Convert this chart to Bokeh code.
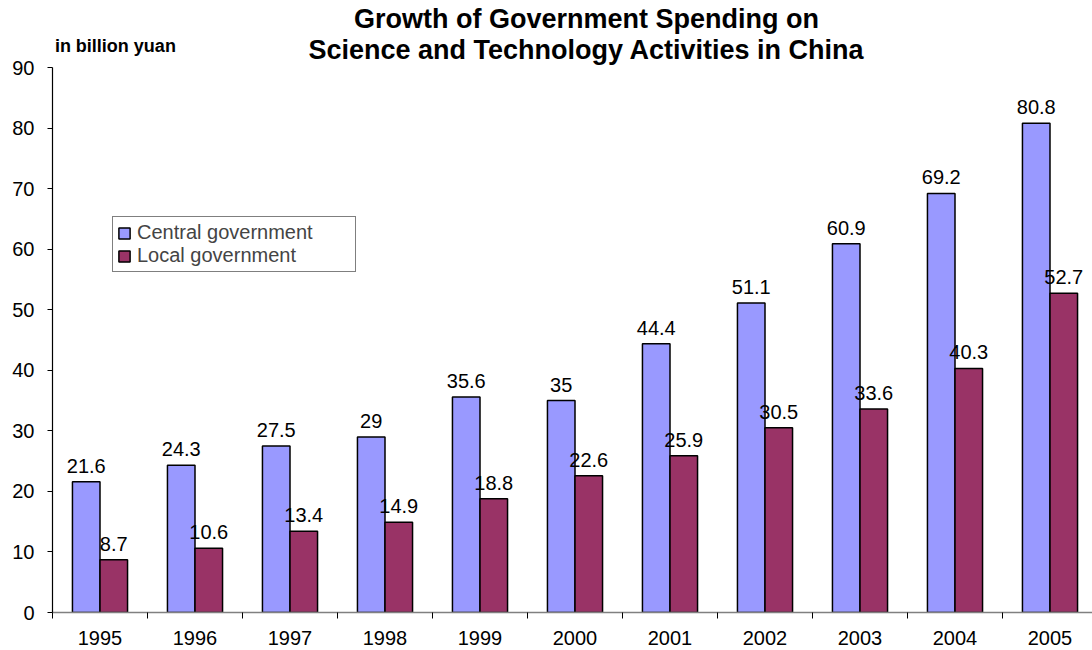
from bokeh.plotting import figure
from bokeh.models import (ColumnDataSource, FixedTicker, Range1d, Label, Legend, LegendItem)
from bokeh.core.properties import value
from bokeh.embed import file_html
from bokeh.resources import INLINE

years = ["1995", "1996", "1997", "1998", "1999", "2000", "2001", "2002", "2003", "2004", "2005"]
central = [21.6, 24.3, 27.5, 29, 35.6, 35, 44.4, 51.1, 60.9, 69.2, 80.8]
local = [8.7, 10.6, 13.4, 14.9, 18.8, 22.6, 25.9, 30.5, 33.6, 40.3, 52.7]
y_ticks = [0, 10, 20, 30, 40, 50, 60, 70, 80, 90]
title_lines = ["Growth of Government Spending on", "Science and Technology Activities in China"]
unit_label = "in billion yuan"

FONT = "Liberation Sans"
BLUE = "#9999FF"
MAROON = "#993366"
BW = 0.29

idx = list(range(len(years)))
src = ColumnDataSource(dict(
    xc=[i + 0.5 - BW / 2 for i in idx],
    xl=[i + 0.5 + BW / 2 for i in idx],
    central=central,
    local=local,
    tc=[format(v, "g") for v in central],
    tl=[format(v, "g") for v in local],
))

# frame spans the full height above the x axis; the y axis itself stops at 90
Y_TOP = 612 / (545 / 90)
p = figure(width=1092, height=650, output_backend="svg", toolbar_location=None,
           x_range=Range1d(0, 1040 / 95), y_range=Range1d(0, Y_TOP),
           min_border_left=52, min_border_right=0, min_border_top=0, min_border_bottom=38)
p.title_location = None
p.outline_line_color = None
p.xgrid.visible = False
p.ygrid.visible = False

rc = p.vbar(x="xc", top="central", width=BW, source=src, fill_color=BLUE,
            line_color="black", line_width=1.5)
rl = p.vbar(x="xl", top="local", width=BW, source=src, fill_color=MAROON,
            line_color="black", line_width=1.5)

for xcol, ycol, tcol in (("xc", "central", "tc"), ("xl", "local", "tl")):
    p.text(x=xcol, y=ycol, text=tcol, source=src, text_align="center",
           text_baseline="bottom", y_offset=-9, text_font=value(FONT),
           text_font_size="20px", text_color="black")

# x axis: labels at category centres, tick marks at category boundaries
xa = p.xaxis[0]
xa.ticker = FixedTicker(ticks=[i + 0.5 for i in idx], minor_ticks=list(range(len(years) + 1)))
xa.major_label_overrides = {i + 0.5: y for i, y in zip(idx, years)}
xa.major_tick_out = 0
xa.major_tick_in = 0
xa.minor_tick_out = 6
xa.minor_tick_in = 0
xa.minor_tick_line_color = "black"
xa.axis_line_color = "#808080"
xa.axis_line_width = 1.5
xa.major_label_standoff = 12
xa.major_label_text_font = FONT
xa.major_label_text_font_size = "20px"
xa.major_label_text_color = "black"

ya = p.yaxis[0]
ya.ticker = FixedTicker(ticks=y_ticks, minor_ticks=[])
ya.bounds = (0, 90)
ya.major_tick_out = 5
ya.major_tick_in = 0
ya.axis_line_color = "black"
ya.axis_line_width = 1.2
ya.major_label_standoff = 13
ya.major_label_text_font = FONT
ya.major_label_text_font_size = "20px"
ya.major_label_text_color = "black"

for txt, xx, yy, size, align in ((title_lines[0], 5.621, 98.09, "27px", "center"),
                                 (title_lines[1], 5.621, 92.81, "27px", "center"),
                                 (unit_label, 0.025, 93.63, "18px", "left")):
    p.add_layout(Label(x=xx, y=yy, text=txt, text_align=align, text_baseline="middle",
                       text_font=FONT, text_font_style="bold", text_font_size=size,
                       text_color="black"))

legend = Legend(items=[LegendItem(label="Central government", renderers=[rc]),
                       LegendItem(label="Local government", renderers=[rl])],
                location=(60, 340), orientation="vertical")
legend.label_text_font = FONT
legend.label_text_font_size = "20px"
legend.label_height = 20
legend.label_width = 214
legend.glyph_height = 14
legend.glyph_width = 14
legend.label_standoff = 6
legend.spacing = 0
legend.padding = 4
legend.margin = 0
legend.border_line_color = "black"
legend.border_line_width = 1
legend.background_fill_alpha = 1
p.add_layout(legend)

open("out.html", "w").write(file_html(p, INLINE))
